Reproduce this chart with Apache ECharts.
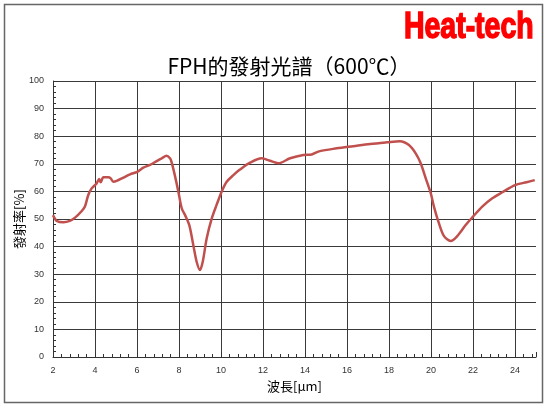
<!DOCTYPE html>
<html><head><meta charset="utf-8">
<script src="https://cdn.jsdelivr.net/npm/echarts@6/dist/echarts.min.js"></script>
<style>html,body{margin:0;padding:0;background:#fff}#c{width:550px;height:409px}</style>
</head><body><div id="c"></div>
<script>
const wavelength = [2.0,2.18,2.5,2.8,3.05,3.37,3.52,3.68,3.84,4.08,4.2,4.27,4.4,4.63,4.75,4.87,5.03,5.35,5.67,6.01,6.3,6.62,6.94,7.18,7.41,7.57,7.64,7.8,7.97,8.13,8.29,8.49,8.68,8.84,9.0,9.13,9.32,9.56,9.79,10.03,10.27,10.59,10.9,11.38,11.94,12.33,12.73,13.29,13.92,14.32,14.71,15.51,16.3,17.1,17.9,18.52,18.95,19.27,19.51,19.75,19.99,20.14,20.38,20.62,20.94,21.25,21.65,21.97,22.44,22.92,23.4,24.0,24.55,24.94];
const emissivity = [51.4,49.3,48.8,49.3,50.5,52.9,54.5,58.7,61.1,62.9,64.5,63.3,65.1,65.1,64.7,63.5,63.8,65.0,66.2,67.1,68.6,69.6,71.0,72.0,72.9,72.0,70.8,65.9,59.9,53.9,51.4,47.8,40.6,34.5,31.5,34.5,43.0,50.2,55.1,59.9,63.5,65.9,67.9,70.4,72.0,71.1,70.2,72.0,73.2,73.4,74.6,75.6,76.4,77.2,77.8,78.2,76.8,73.8,70.2,64.7,59.3,54.5,48.4,43.8,42.0,43.8,47.8,50.6,54.5,57.5,59.7,62.3,63.3,64.1];
const titleText = 'FPH的發射光譜（600℃）';
const brandText = 'Heat-tech';
const xName = '波長[μm]';
const yName = '發射率[%]';

const chart = echarts.init(document.getElementById('c'), null, {renderer:'canvas'});
const data = wavelength.map((w,i)=>[w, emissivity[i]]);
const axisText = {color:'#333', fontSize:9, fontFamily:'Liberation Sans, Arial, sans-serif'};
chart.setOption({
  animation:false,
  backgroundColor:'#fff',
  title:{text:titleText, left:284, top:51, textAlign:'center',
    textStyle:{fontSize:21, fontWeight:'normal', color:'#000', fontFamily:'"Noto Sans CJK TC", sans-serif'}},
  graphic:[
    {type:'rect', shape:{x:4.5,y:4.5,width:538,height:398}, style:{fill:'none', stroke:'#666', lineWidth:1.5}, silent:true},
    {type:'text', x:404, y:10, scaleX:0.79, scaleY:1, style:{text:brandText, fill:'#ff0000', stroke:'#ff0000', lineWidth:1.5, font:'bold 36px "Liberation Sans", Arial, sans-serif', textVerticalAlign:'top'}}
  ],
  grid:{left:53, right:14, top:81, bottom:52, outerBoundsMode:'none', containLabel:false},
  xAxis:{type:'value', min:2, max:25, interval:2,
    name:xName, nameLocation:'middle', nameGap:23, nameMoveOverlap:false,
    nameTextStyle:{fontSize:13, color:'#000', fontFamily:'"Noto Sans CJK TC", sans-serif'},
    axisLine:{show:true, lineStyle:{color:'#333', width:1}},
    axisTick:{show:true, inside:true, length:5, lineStyle:{color:'#333'}},
    minorTick:{show:true, splitNumber:5, length:3, lineStyle:{color:'#333'}},
    axisLabel:Object.assign({margin:9, showMaxLabel:false}, axisText),
    splitLine:{show:true, showMaxLine:false, lineStyle:{color:'#3a3a3a', width:1}}
  },
  yAxis:{type:'value', min:0, max:100, interval:10,
    name:yName, nameLocation:'middle', nameGap:27, nameRotate:90, nameMoveOverlap:false,
    nameTextStyle:{fontSize:13, color:'#000', fontFamily:'"Noto Sans CJK TC", sans-serif'},
    axisLine:{show:true, lineStyle:{color:'#333', width:1}},
    axisTick:{show:true, inside:true, length:5, lineStyle:{color:'#333'}},
    minorTick:{show:true, splitNumber:5, length:3, lineStyle:{color:'#333'}},
    axisLabel:Object.assign({margin:9}, axisText),
    splitLine:{show:true, lineStyle:{color:'#3a3a3a', width:1}}
  },
  series:[{type:'line', data:data, showSymbol:false, smooth:0.3,
    lineStyle:{color:'#c0504d', width:2.5}}]
});
</script></body></html>
